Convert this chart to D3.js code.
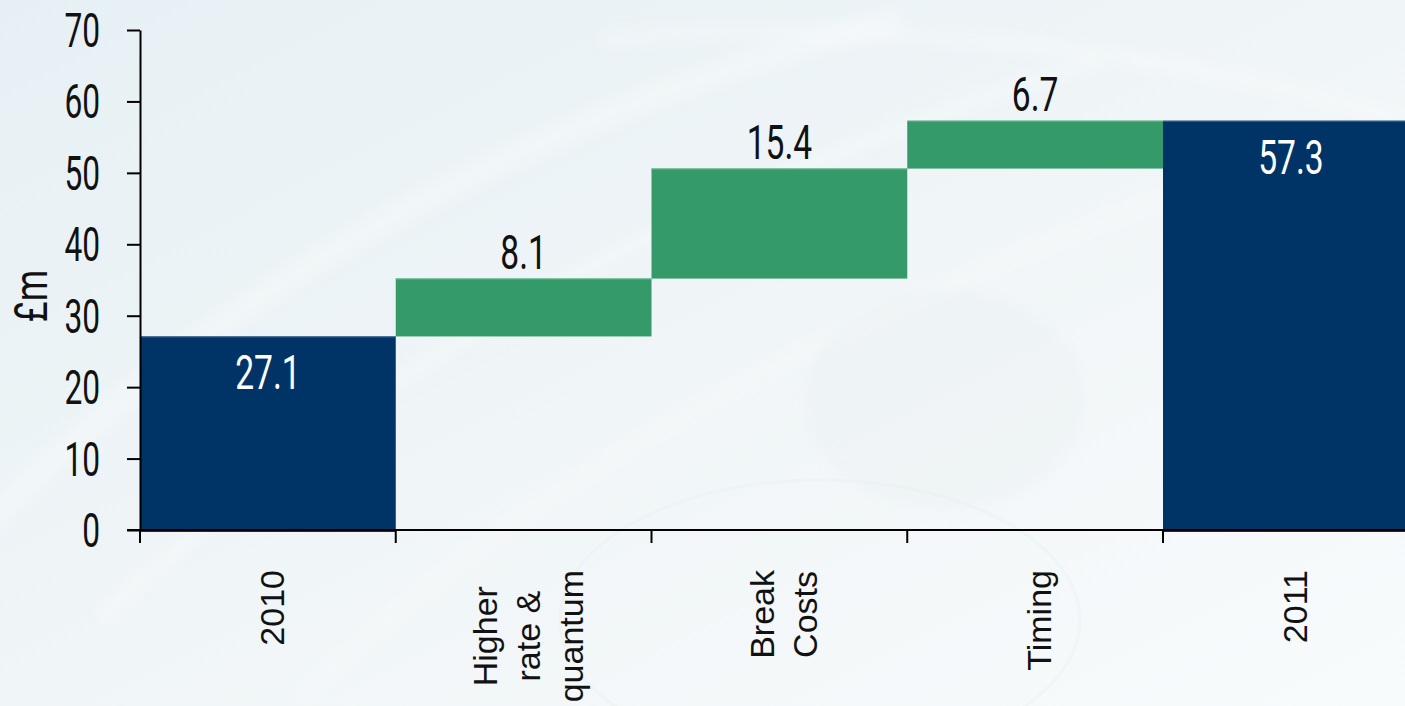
<!DOCTYPE html>
<html><head><meta charset="utf-8">
<script src="https://cdn.jsdelivr.net/npm/d3@7"></script>
<style>html,body{margin:0;padding:0;background:#f4f8fa;overflow:hidden}</style>
</head><body>
<svg id="chart" width="1405" height="706"></svg>
<script>
const categories = ["2010", "Higher rate & quantum", "Break Costs", "Timing", "2011"];
const categoryLines = [["2010"], ["Higher", "rate &", "quantum"], ["Break", "Costs"], ["Timing"], ["2011"]];
const values = [27.1, 8.1, 15.4, 6.7, 57.3];
const kinds = ["total", "delta", "delta", "delta", "total"];
const yTicks = [0, 10, 20, 30, 40, 50, 60, 70];
const yLabel = "£m";

const svg = d3.select("#chart");
const W = 1405, H = 706;

// background
const defs = svg.append("defs");
const lg = defs.append("linearGradient").attr("id", "bg").attr("x1", "0").attr("y1", "0").attr("x2", "1").attr("y2", "1");
lg.append("stop").attr("offset", "0").attr("stop-color", "#e6f0f4");
lg.append("stop").attr("offset", "0.5").attr("stop-color", "#f0f5f7");
lg.append("stop").attr("offset", "1").attr("stop-color", "#f8fbfc");
svg.append("rect").attr("width", W).attr("height", H).attr("fill", "url(#bg)");
const blur = defs.append("filter").attr("id", "blur").attr("x", "-20%").attr("y", "-20%").attr("width", "140%").attr("height", "140%");
blur.append("feGaussianBlur").attr("stdDeviation", 6);
const deco = svg.append("g").attr("fill", "none").attr("stroke", "#ffffff").attr("filter", "url(#blur)");
[["M-50,560 C200,300 500,120 900,20", 26, 0.25], ["M100,620 C350,380 650,200 1100,60", 16, 0.2],
 ["M300,700 C500,500 800,320 1300,150", 20, 0.18], ["M600,40 C800,20 1100,30 1405,120", 18, 0.2]]
  .forEach(([d, w, o]) => deco.append("path").attr("d", d).attr("stroke-width", w).attr("stroke-opacity", o));
svg.append("ellipse").attr("cx", 945).attr("cy", 400).attr("rx", 140).attr("ry", 110)
  .attr("fill", "#e8eff2").attr("fill-opacity", 0.35).attr("filter", "url(#blur)");
svg.append("ellipse").attr("cx", 820).attr("cy", 620).attr("rx", 260).attr("ry", 140)
  .attr("fill", "none").attr("stroke", "#e8eff2").attr("stroke-width", 3).attr("stroke-opacity", 0.4);

const x0 = 140, bw = 255.75;
const x = d3.scaleBand().domain(categories).range([x0, x0 + bw * categories.length]).padding(0);
const y = d3.scaleLinear().domain([0, 70]).range([530, 30]);

// waterfall bases
let run = 0;
const bars = categories.map((c, i) => {
  let lo, hi;
  if (kinds[i] === "total") { lo = 0; hi = values[i]; run = values[i]; }
  else { lo = run; hi = run + values[i]; run = hi; }
  return { c, v: values[i], kind: kinds[i], lo, hi, lines: categoryLines[i] };
});

const colors = { total: "#003466", delta: "#349a69" };
const edge = { total: "#3d6690", delta: "#5fb487" };

const condensedFont = "Roboto, 'DejaVu Sans Condensed', sans-serif";

svg.append("g").selectAll("rect").data(bars).join("rect")
  .attr("x", d => x(d.c)).attr("width", x.bandwidth())
  .attr("y", d => y(d.hi)).attr("height", d => y(d.lo) - y(d.hi) + (d.kind === "total" ? 2 : 0))
  .attr("fill", d => colors[d.kind]);
svg.append("g").selectAll("line").data(bars).join("line")
  .attr("x1", d => x(d.c)).attr("x2", d => x(d.c) + x.bandwidth())
  .attr("y1", d => y(d.hi) + 0.5).attr("y2", d => y(d.hi) + 0.5)
  .attr("stroke", d => edge[d.kind]).attr("stroke-width", 1);

// axes
const yAxis = svg.append("g").attr("transform", `translate(${x0},0)`)
  .call(d3.axisLeft(y).tickValues(yTicks).tickSize(13).tickSizeOuter(0).tickFormat(""));
yAxis.selectAll("path,line").attr("stroke", "#000").attr("stroke-width", 2);

const xAxisG = svg.append("g");
xAxisG.append("line").attr("x1", x0 - 13).attr("x2", W).attr("y1", y(0)).attr("y2", y(0))
  .attr("stroke", "#000").attr("stroke-width", 2);
xAxisG.selectAll("line.tk").data(categories).join("line").attr("class", "tk")
  .attr("x1", d => x(d)).attr("x2", d => x(d)).attr("y1", y(0)).attr("y2", y(0) + 13)
  .attr("stroke", "#000").attr("stroke-width", 2);

// y tick labels
svg.append("g").selectAll("text").data(yTicks).join("text")
  .attr("transform", d => `translate(100,${y(d) + 17}) scale(0.66,1)`)
  .attr("text-anchor", "end").attr("font-family", condensedFont).attr("font-size", 48)
  .attr("fill", "#111").text(d => d);

// y label
svg.append("text").attr("transform", "translate(47,296) rotate(-90) scale(0.78,1)")
  .attr("text-anchor", "middle").attr("font-family", condensedFont).attr("font-size", 46)
  .attr("fill", "#111").text(yLabel);

// value labels
svg.append("g").selectAll("text").data(bars).join("text")
  .attr("transform", d => {
    const cx = x(d.c) + x.bandwidth() / 2;
    const by = d.kind === "total" ? y(d.hi) + 53 : y(d.hi) - 10;
    return `translate(${cx},${by}) scale(0.7,1)`;
  })
  .attr("text-anchor", "middle").attr("font-family", condensedFont).attr("font-size", 48)
  .attr("fill", d => d.kind === "total" ? "#ffffff" : "#111").text(d => d.v.toFixed(1));

// category labels (rotated)
const lh = 43, fs = 34, topY = 570;
const catG = svg.append("g").attr("font-family", "'Liberation Sans', Arial, sans-serif")
  .attr("font-size", fs).attr("fill", "#111");
bars.forEach(d => {
  const cx = x(d.c) + x.bandwidth() / 2;
  const g = catG.append("g");
  const n = d.lines.length;
  const ts = d.lines.map((t, i) => g.append("text").attr("text-anchor", "middle")
    .attr("y", 16 + (i - (n - 1) / 2) * lh).text(t));
  const maxL = d3.max(ts, t => t.node().getComputedTextLength());
  ts.forEach(t => t.attr("x", -maxL / 2));
  g.attr("transform", `translate(${cx},${topY}) rotate(-90)`);
});
</script>
</body></html>
